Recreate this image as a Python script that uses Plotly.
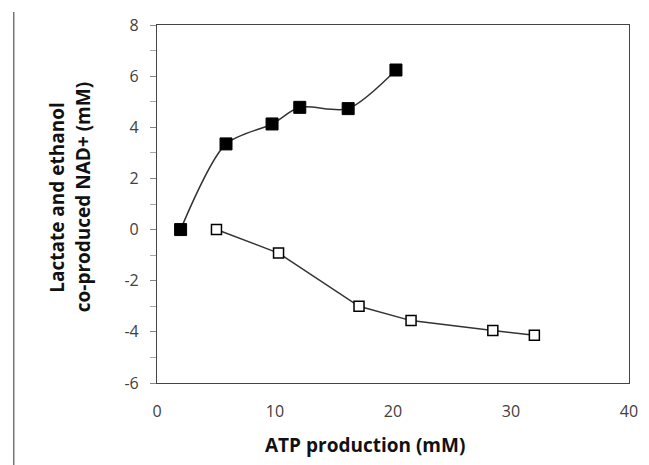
import plotly.graph_objects as go

filled_x = [2.0, 5.85, 9.75, 12.1, 16.2, 20.25]
filled_y = [0.0, 3.35, 4.13, 4.78, 4.73, 6.24]
open_x = [5.04, 10.3, 17.12, 21.53, 28.46, 31.98]
open_y = [0.0, -0.92, -3.0, -3.56, -3.95, -4.13]

y_ticks = [-6, -4, -2, 0, 2, 4, 6, 8]
y_ticktext = ["-6", "-4", "-2", "0", "2", "4", "6", "8"]
x_ticks = [0, 10, 20, 30, 40]

x_title = "ATP production (mM)"
y_title_1 = "Lactate and ethanol"
y_title_2 = "co-produced NAD+ (mM)"

fig = go.Figure()
fig.add_trace(go.Scatter(
    x=filled_x, y=filled_y, mode="lines+markers",
    line=dict(color="#333333", width=1.5, shape="spline", smoothing=0.8),
    marker=dict(symbol="square", size=12, color="black", line=dict(color="black", width=1)),
    showlegend=False))
fig.add_trace(go.Scatter(
    x=open_x, y=open_y, mode="lines+markers",
    line=dict(color="#333333", width=1.5),
    marker=dict(symbol="square", size=10, color="white", line=dict(color="black", width=1.5)),
    showlegend=False))

font = "Open Sans, Carlito, Liberation Sans, sans-serif"
title_font = dict(size=19, color="#111111", family=font, weight="bold")
fig.update_layout(
    width=649, height=465,
    margin=dict(l=157, r=11, t=25, b=82),
    paper_bgcolor="white", plot_bgcolor="white",
    font=dict(family=font, color="#404040", size=16),
    xaxis=dict(range=[0, 40], tickvals=x_ticks, showgrid=False, zeroline=False,
               showline=True, linecolor="#444444", linewidth=1.2, mirror=True,
               ticks="", ticklabelstandoff=14),
    yaxis=dict(range=[-6, 8], tickvals=y_ticks, ticktext=y_ticktext, showgrid=False, zeroline=False,
               showline=True, linecolor="#444444", linewidth=1.2, mirror=True,
               ticks="outside", ticklen=6, tickcolor="#888888", ticklabelstandoff=8,
               minor=dict(dtick=1, ticks="outside", ticklen=6, tickcolor="#aaaaaa")),
    annotations=[
        dict(text=x_title, xref="paper", yref="paper", x=0.44, y=-0.173,
             showarrow=False, font=title_font, xanchor="center", yanchor="middle"),
        dict(text=y_title_1, xref="paper", yref="paper", x=-0.212, y=0.52,
             showarrow=False, font=title_font, textangle=-90, xanchor="center", yanchor="middle"),
        dict(text=y_title_2, xref="paper", yref="paper", x=-0.158, y=0.52,
             showarrow=False, font=title_font, textangle=-90, xanchor="center", yanchor="middle"),
    ],
    shapes=[dict(type="line", xref="paper", yref="paper",
                 x0=-0.3035, x1=-0.3035, y0=1.036, y1=-0.3,
                 line=dict(color="#777777", width=1.5))],
)

fig.write_html("out.html")
